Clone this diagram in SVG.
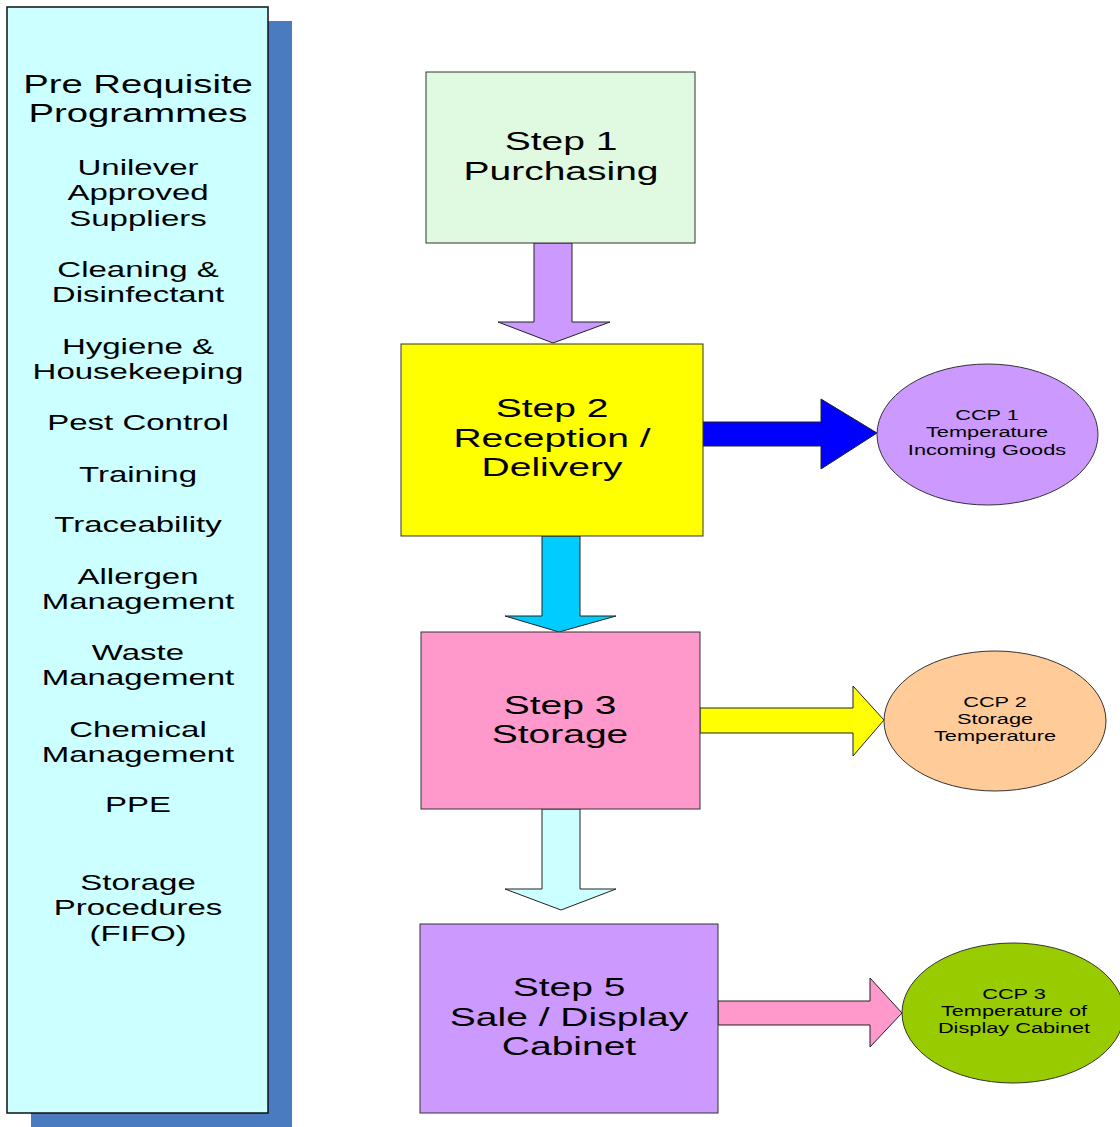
<svg xmlns="http://www.w3.org/2000/svg" width="1120" height="1127" viewBox="0 0 1120 1127">
<style>
text{font-family:"Liberation Sans",Arial,sans-serif;fill:#000;text-anchor:middle}
.h{font-size:25.5px}
.l{font-size:22px}
.s{font-size:26px}
.c{font-size:14.5px}
.box{stroke:#333;stroke-width:1}
.arr{stroke:#222;stroke-width:1;stroke-linejoin:miter}
</style>
<rect width="1120" height="1127" fill="#fff"/>
<g id="prp-panel">
<rect x="31" y="21" width="261" height="1110" fill="#4a7abf"/>
<rect x="7" y="7" width="261" height="1106" fill="#ccffff" stroke="#111" stroke-width="1.5"/>
<g transform="translate(138,0) scale(1.5,1)">
<text class="h" x="0" y="93">Pre Requisite</text>
<text class="h" x="0" y="122">Programmes</text>
<text class="l" x="0" y="175">Unilever</text>
<text class="l" x="0" y="200">Approved</text>
<text class="l" x="0" y="226">Suppliers</text>
<text class="l" x="0" y="277">Cleaning &amp;</text>
<text class="l" x="0" y="302">Disinfectant</text>
<text class="l" x="0" y="354">Hygiene &amp;</text>
<text class="l" x="0" y="379">Housekeeping</text>
<text class="l" x="0" y="430">Pest Control</text>
<text class="l" x="0" y="482">Training</text>
<text class="l" x="0" y="532">Traceability</text>
<text class="l" x="0" y="584">Allergen</text>
<text class="l" x="0" y="609">Management</text>
<text class="l" x="0" y="660">Waste</text>
<text class="l" x="0" y="685">Management</text>
<text class="l" x="0" y="737">Chemical</text>
<text class="l" x="0" y="762">Management</text>
<text class="l" x="0" y="812">PPE</text>
<text class="l" x="0" y="890">Storage</text>
<text class="l" x="0" y="915">Procedures</text>
<text class="l" x="0" y="941">(FIFO)</text>
</g>
</g>
<g id="connectors">
<polygon class="arr" fill="#cc99ff" points="534,243 572,243 572,322 610,322 553,343 498,322 534,322"/>
<polygon class="arr" fill="#00ccff" points="542,536 580,536 580,616 616,616 559,632 505,616 542,616"/>
<polygon class="arr" fill="#ccffff" points="542,809 580,809 580,889 616,889 561,910 505,889 542,889"/>
<polygon class="arr" fill="#0000ff" points="703,422 821,422 821,399 877,433 821,469 821,446 703,446"/>
<polygon class="arr" fill="#ffff00" points="700,708 853,708 853,686 884,720 853,756 853,733 700,733"/>
<polygon class="arr" fill="#ff99cc" points="718,1001 870,1001 870,978 902,1013 870,1047 870,1025 718,1025"/>
</g>
<g id="step1">
<rect class="box" x="426" y="72" width="269" height="171" fill="#e0fae2"/>
<g transform="translate(561,0) scale(1.5,1)">
<text class="s" x="0" y="150">Step 1</text>
<text class="s" x="0" y="180">Purchasing</text>
</g>
</g>
<g id="step2">
<rect class="box" x="401" y="344" width="302" height="192" fill="#ffff00"/>
<g transform="translate(552,0) scale(1.5,1)">
<text class="s" x="0" y="417">Step 2</text>
<text class="s" x="0" y="447">Reception /</text>
<text class="s" x="0" y="476">Delivery</text>
</g>
</g>
<g id="step3">
<rect class="box" x="421" y="632" width="279" height="177" fill="#ff99cc"/>
<g transform="translate(560,0) scale(1.5,1)">
<text class="s" x="0" y="714">Step 3</text>
<text class="s" x="0" y="743">Storage</text>
</g>
</g>
<g id="step5">
<rect class="box" x="420" y="924" width="298" height="189" fill="#cc99ff"/>
<g transform="translate(569,0) scale(1.5,1)">
<text class="s" x="0" y="996">Step 5</text>
<text class="s" x="0" y="1026">Sale / Display</text>
<text class="s" x="0" y="1055">Cabinet</text>
</g>
</g>
<g id="ccp1">
<ellipse class="box" cx="987.5" cy="434.5" rx="110.5" ry="70.5" fill="#cc99ff"/>
<g transform="translate(987,0) scale(1.5,1)">
<text class="c" x="0" y="420">CCP 1</text>
<text class="c" x="0" y="437">Temperature</text>
<text class="c" x="0" y="455">Incoming Goods</text>
</g>
</g>
<g id="ccp2">
<ellipse class="box" cx="995" cy="721" rx="111" ry="70" fill="#ffcc99"/>
<g transform="translate(995,0) scale(1.5,1)">
<text class="c" x="0" y="707">CCP 2</text>
<text class="c" x="0" y="724">Storage</text>
<text class="c" x="0" y="741">Temperature</text>
</g>
</g>
<g id="ccp3">
<ellipse class="box" cx="1013" cy="1013" rx="111" ry="70" fill="#99cc00"/>
<g transform="translate(1014,0) scale(1.5,1)">
<text class="c" x="0" y="999">CCP 3</text>
<text class="c" x="0" y="1016">Temperature of</text>
<text class="c" x="0" y="1033">Display Cabinet</text>
</g>
</g>
</svg>
